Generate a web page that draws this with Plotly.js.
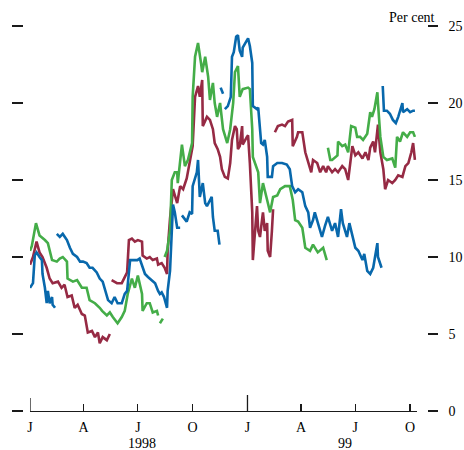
<!DOCTYPE html>
<html>
<head>
<meta charset="utf-8">
<script src="https://cdn.plot.ly/plotly-3.0.1.min.js"></script>
<style>html,body{margin:0;padding:0;background:#fff;}#chart{width:464px;height:450px;}</style>
</head>
<body>
<div id="chart"></div>
<script>
// ---- data (per cent); null marks a break in a series ----
const blueDates = [
 '1998-01-01','1998-01-06','1998-01-09','1998-01-12','1998-01-17','1998-01-21','1998-01-22','1998-01-26','1998-01-29','1998-01-31','1998-02-03','1998-02-07','1998-02-08','1998-02-12',
 '1998-02-13',
 '1998-02-15','1998-02-20','1998-02-25','1998-03-04','1998-03-09','1998-03-14','1998-03-21','1998-03-26','1998-03-31','1998-04-06','1998-04-11','1998-04-16','1998-04-23','1998-04-28','1998-05-03','1998-05-07','1998-05-12','1998-05-18','1998-05-23','1998-05-28','1998-06-04','1998-06-09','1998-06-13','1998-06-18','1998-06-23','1998-06-30','1998-07-04','1998-07-09','1998-07-13','1998-07-18','1998-07-25','1998-07-30','1998-08-04','1998-08-07','1998-08-10','1998-08-14','1998-08-19','1998-08-20','1998-08-24','1998-08-27','1998-08-29','1998-09-01','1998-09-05','1998-09-10',
 '1998-09-12',
 '1998-09-13','1998-09-15','1998-09-21','1998-09-26','1998-09-30','1998-10-01','1998-10-08','1998-10-10','1998-10-13','1998-10-18','1998-10-22','1998-10-25','1998-10-30','1998-11-02','1998-11-04','1998-11-07','1998-11-12','1998-11-15',
 '1998-11-16',
 '1998-11-17','1998-11-21',
 '1998-11-22',
 '1998-11-24','1998-11-29','1998-12-04','1998-12-06','1998-12-09','1998-12-13','1998-12-16','1998-12-19','1998-12-23','1998-12-24','1998-12-30','1999-01-02','1999-01-05','1999-01-09','1999-01-10','1999-01-17','1999-01-19','1999-01-24','1999-01-27','1999-01-30','1999-02-03','1999-02-04','1999-02-11','1999-02-13','1999-02-20','1999-02-28','1999-03-08','1999-03-13','1999-03-17','1999-03-22','1999-03-27','1999-04-03','1999-04-08','1999-04-13','1999-04-16','1999-04-21','1999-04-24','1999-04-29','1999-05-06','1999-05-11','1999-05-16','1999-05-23','1999-05-28','1999-06-02','1999-06-07','1999-06-10','1999-06-17','1999-06-21','1999-06-26','1999-07-01','1999-07-06','1999-07-13','1999-07-16','1999-07-21','1999-07-26','1999-07-31','1999-08-07','1999-08-08','1999-08-14',
 '1999-08-15',
 '1999-08-16','1999-08-18','1999-08-23','1999-08-28','1999-09-02','1999-09-07','1999-09-11','1999-09-18','1999-09-19','1999-09-26','1999-10-01','1999-10-06','1999-10-09'
];
const blueValues = [
 8.0,8.3,10.1,10.3,10.0,9.8,8.9,8.0,7.0,7.8,7.0,7.4,6.9,6.7,
 null,
 11.5,11.3,11.5,11.1,10.6,10.2,10.0,9.7,9.7,9.6,9.3,9.3,9.0,8.6,8.4,7.8,7.2,7.0,7.4,7.0,7.0,7.6,7.8,9.8,9.8,9.8,9.9,9.3,8.9,8.7,8.5,8.3,7.8,7.6,7.7,7.4,6.7,7.8,9.1,11.3,13.4,12.9,11.9,11.9,
 null,
 12.7,12.6,12.3,12.9,12.8,14.6,15.5,16.3,13.9,14.8,13.5,13.3,13.7,13.9,12.6,11.7,11.7,10.8,
 null,
 21.0,20.6,
 null,
 19.6,19.8,20.4,23.0,23.3,24.3,24.4,23.4,23.0,23.6,24.0,24.2,23.7,22.6,19.8,19.6,19.7,17.4,17.3,17.6,16.5,15.2,15.2,15.9,16.1,16.1,16.0,15.7,14.6,14.2,14.4,14.2,13.3,12.9,11.9,12.4,12.9,12.2,11.3,12.0,12.6,11.7,12.2,11.3,13.1,12.2,11.3,12.2,11.3,10.6,10.4,9.8,10.2,9.1,8.9,9.3,10.9,10.0,9.3,
 null,
 21.1,19.5,19.5,19.3,18.9,18.7,19.1,20.0,19.4,19.6,19.4,19.5,19.5
];

const redDates = [
 '1998-01-01','1998-01-06','1998-01-12','1998-01-17','1998-01-22','1998-01-29','1998-02-03','1998-02-08','1998-02-17','1998-02-23','1998-02-28','1998-03-05','1998-03-12','1998-03-17','1998-03-22','1998-03-29','1998-04-03','1998-04-08','1998-04-15','1998-04-20','1998-04-25','1998-04-28','1998-05-03','1998-05-10','1998-05-15',
 '1998-05-16',
 '1998-05-18','1998-05-27','1998-06-04','1998-06-09','1998-06-13','1998-06-16','1998-06-21','1998-06-26','1998-07-01','1998-07-08','1998-07-09','1998-07-16','1998-07-21','1998-07-26','1998-08-02','1998-08-04','1998-08-10','1998-08-15','1998-08-19','1998-08-20','1998-08-24','1998-08-29','1998-09-05','1998-09-10','1998-09-15','1998-09-21','1998-09-26','1998-10-01','1998-10-05','1998-10-10','1998-10-13','1998-10-17','1998-10-18','1998-10-25','1998-10-30','1998-11-04','1998-11-07','1998-11-12','1998-11-16','1998-11-19','1998-11-24','1998-11-29','1998-12-03','1998-12-06','1998-12-11','1998-12-14','1998-12-16','1998-12-19','1998-12-23','1998-12-24','1998-12-31','1999-01-02','1999-01-05','1999-01-09','1999-01-10','1999-01-14','1999-01-17','1999-01-19','1999-01-22','1999-01-26','1999-01-27','1999-01-30','1999-02-03','1999-02-04','1999-02-08','1999-02-11','1999-02-13',
 '1999-02-14',
 '1999-02-16','1999-02-21','1999-02-28','1999-03-05','1999-03-10','1999-03-17','1999-03-18','1999-03-25','1999-03-27','1999-04-03','1999-04-08','1999-04-13','1999-04-18','1999-04-21','1999-04-28','1999-05-03','1999-05-08','1999-05-13','1999-05-16','1999-05-23','1999-05-28','1999-06-02','1999-06-09','1999-06-14','1999-06-19','1999-06-26','1999-07-01','1999-07-06','1999-07-13','1999-07-18','1999-07-23','1999-07-26','1999-07-31','1999-08-03','1999-08-08','1999-08-12','1999-08-17','1999-08-20','1999-08-25','1999-09-01','1999-09-06','1999-09-11','1999-09-18','1999-09-23','1999-09-28','1999-10-03','1999-10-06','1999-10-09'
];
const redValues = [
 9.5,10.0,11.0,10.3,10.0,9.3,8.6,8.3,8.4,8.0,8.2,7.4,7.5,6.7,6.9,6.3,6.2,5.1,5.2,4.8,5.1,4.4,4.8,4.6,5.0,
 null,
 8.5,8.3,8.3,8.7,9.0,11.1,11.2,11.0,11.1,11.0,10.1,9.9,10.0,9.8,9.9,9.5,9.6,9.3,8.9,10.4,12.5,14.4,13.5,14.6,14.4,15.1,16.1,17.2,20.4,21.1,20.4,21.5,18.5,19.1,18.9,18.3,17.4,17.0,16.5,15.7,15.2,15.1,16.1,17.6,18.5,18.3,17.0,17.2,18.5,17.3,17.8,17.9,16.1,12.9,9.8,11.7,13.3,11.7,11.3,12.6,12.9,11.7,12.2,10.4,10.0,11.7,13.1,
 null,
 18.1,18.5,18.6,18.5,18.8,18.9,17.2,17.8,18.1,18.1,16.8,16.1,15.5,16.3,16.1,15.5,15.9,15.5,15.9,15.5,15.7,15.5,15.9,15.7,15.0,17.2,16.6,16.8,16.4,16.8,16.3,17.1,17.5,16.8,18.6,16.8,15.7,14.4,15.0,14.8,15.0,15.3,15.2,15.9,16.1,16.8,17.4,16.3
];

const greenDates = [
 '1998-01-01','1998-01-04','1998-01-11','1998-01-17','1998-01-26','1998-01-31','1998-02-07','1998-02-15','1998-02-20','1998-02-25','1998-03-04','1998-03-05','1998-03-14','1998-03-21','1998-03-29','1998-04-06','1998-04-11','1998-04-20','1998-04-28','1998-05-02','1998-05-10','1998-05-15','1998-05-20','1998-05-28','1998-06-04','1998-06-09','1998-06-14','1998-06-21','1998-06-26','1998-07-01','1998-07-08','1998-07-09','1998-07-16','1998-07-21','1998-07-26','1998-08-02','1998-08-04',
 '1998-08-05',
 '1998-08-07','1998-08-12',
 '1998-08-13',
 '1998-08-15','1998-08-19','1998-08-24','1998-08-27','1998-09-01','1998-09-05','1998-09-06','1998-09-13','1998-09-18','1998-09-23','1998-09-30','1998-10-01','1998-10-05','1998-10-10','1998-10-15','1998-10-17','1998-10-22','1998-10-27','1998-10-30','1998-11-04','1998-11-07','1998-11-11','1998-11-16','1998-11-21','1998-11-28','1998-12-03','1998-12-08','1998-12-11','1998-12-16','1998-12-19','1998-12-24','1999-01-02','1999-01-05','1999-01-09','1999-01-10','1999-01-14','1999-01-19','1999-01-22','1999-01-27','1999-02-03','1999-02-08','1999-02-13','1999-02-20','1999-02-25','1999-03-05','1999-03-13','1999-03-18','1999-03-22','1999-03-27','1999-04-03','1999-04-08','1999-04-16','1999-04-21','1999-04-29','1999-05-08','1999-05-14',
 '1999-05-15',
 '1999-05-16','1999-05-20','1999-05-23','1999-06-01','1999-06-02','1999-06-09','1999-06-14','1999-06-19','1999-06-24','1999-07-01','1999-07-04','1999-07-09','1999-07-14','1999-07-21','1999-07-26','1999-07-29','1999-08-02','1999-08-07','1999-08-08','1999-08-12','1999-08-17','1999-08-23','1999-09-01','1999-09-06','1999-09-09','1999-09-14','1999-09-19','1999-09-26','1999-10-01','1999-10-06','1999-10-09'
];
const greenValues = [
 10.4,10.7,12.2,11.4,11.1,10.9,9.8,9.7,9.9,10.0,9.7,8.6,8.4,8.5,8.0,8.0,7.2,7.0,6.7,6.5,6.2,6.4,6.1,5.7,6.1,6.5,7.6,8.6,8.0,8.8,7.6,6.5,7.0,7.0,6.4,6.5,6.2,
 null,
 5.7,6.0,
 null,
 10.0,10.4,11.7,15.0,15.5,15.5,14.8,17.3,15.9,16.3,17.4,20.4,23.0,23.9,22.6,22.0,23.0,21.7,20.2,21.3,20.0,19.1,20.0,18.3,17.4,18.3,20.0,22.0,22.4,20.4,20.9,21.0,20.9,18.3,16.5,16.1,15.5,13.5,14.8,13.7,12.9,13.9,14.0,14.4,14.6,14.6,13.7,12.4,12.3,11.9,10.6,10.4,10.8,10.3,10.6,9.8,
 null,
 17.1,16.3,16.3,16.6,17.5,17.2,17.3,16.8,18.5,18.4,17.8,17.8,17.6,18.0,19.4,19.1,19.6,20.7,20.0,17.8,16.5,16.3,16.4,15.8,17.8,17.5,18.1,17.8,18.1,18.1,17.8
];

const yTicks = [0, 5, 10, 15, 20, 25];
const xTickDates = ['1998-01-01','1998-04-01','1998-07-01','1998-10-01','1999-01-01','1999-04-01','1999-07-01','1999-10-01'];
const xTickLabels = ['J','A','J','O','J','A','J','O'];
const yearStarts = ['1998-01-01', '1999-01-01'];
const yearLabels = ['1998', '99'];
const yearLabelDates = ['1998-07-08', '1999-06-14'];

const xRange = ['1998-01-01', '1999-10-12'];
const serif = 'Liberation Serif, Times New Roman, serif';

const mk = (x, y, color, yaxis) => ({
  type: 'scatter', mode: 'lines', x: x, y: y, xaxis: 'x', yaxis: yaxis,
  line: {color: color, width: 2.6, shape: 'linear'},
  connectgaps: false, hoverinfo: 'skip', showlegend: false
});

const data = [
  mk(redDates, redValues, '#962a44', 'y'),
  mk(greenDates, greenValues, '#44ad48', 'y2'),
  mk(blueDates, blueValues, '#0868ac', 'y2')
];

const tickColor = '#1a1a1a';
const layout = {
  width: 464, height: 450,
  margin: {l: 10, r: 24, t: 26, b: 39, pad: 0},
  paper_bgcolor: '#fff', plot_bgcolor: 'rgba(0,0,0,0)',
  showlegend: false,
  font: {family: serif, size: 14, color: '#000'},
  xaxis: {
    type: 'date', range: xRange, domain: [0.04651, 0.94581],
    showgrid: false, zeroline: false,
    showline: true, linecolor: tickColor, linewidth: 1.3,
    ticks: 'inside', ticklen: 7, tickwidth: 1.3, tickcolor: tickColor,
    tickmode: 'array', tickvals: xTickDates, ticktext: xTickLabels,
    ticklabelstandoff: 3,
    tickfont: {family: serif, size: 14, color: '#000'}
  },
  yaxis: {
    range: [0, 25], anchor: 'free', position: 0.0302, side: 'left',
    showgrid: false, zeroline: false, showline: false,
    ticks: 'outside', ticklen: 11, tickwidth: 1.3, tickcolor: tickColor,
    tickmode: 'array', tickvals: yTicks, showticklabels: false
  },
  yaxis2: {
    range: [0, 25], overlaying: 'y', anchor: 'free', position: 0.9691, side: 'right',
    showgrid: false, zeroline: false, showline: false,
    ticks: 'outside', ticklen: 10, tickwidth: 1.3, tickcolor: tickColor,
    tickmode: 'array', tickvals: yTicks, ticklabelstandoff: 8,
    tickfont: {family: serif, size: 14, color: '#000'}
  },
  shapes: [
    {type: 'line', xref: 'x', yref: 'paper', x0: yearStarts[0], x1: yearStarts[0], y0: 0, y1: 13 / 385,
     line: {color: tickColor, width: 1.3}},
    {type: 'line', xref: 'x', yref: 'paper', x0: yearStarts[1], x1: yearStarts[1], y0: 0, y1: 16 / 385,
     line: {color: tickColor, width: 1.3}}
  ],
  annotations: [
    {text: 'Per cent', xref: 'paper', yref: 'paper', x: 0.993, y: 1.0208,
     xanchor: 'right', yanchor: 'middle', showarrow: false,
     font: {family: serif, size: 14, color: '#000'}},
    {text: yearLabels[0], xref: 'x', yref: 'paper', x: yearLabelDates[0], y: -0.0835,
     xanchor: 'center', yanchor: 'middle', showarrow: false,
     font: {family: serif, size: 14, color: '#000'}},
    {text: yearLabels[1], xref: 'x', yref: 'paper', x: yearLabelDates[1], y: -0.0835,
     xanchor: 'center', yanchor: 'middle', showarrow: false,
     font: {family: serif, size: 14, color: '#000'}}
  ]
};

Plotly.newPlot('chart', data, layout, {staticPlot: true, displayModeBar: false});
</script>
</body>
</html>
